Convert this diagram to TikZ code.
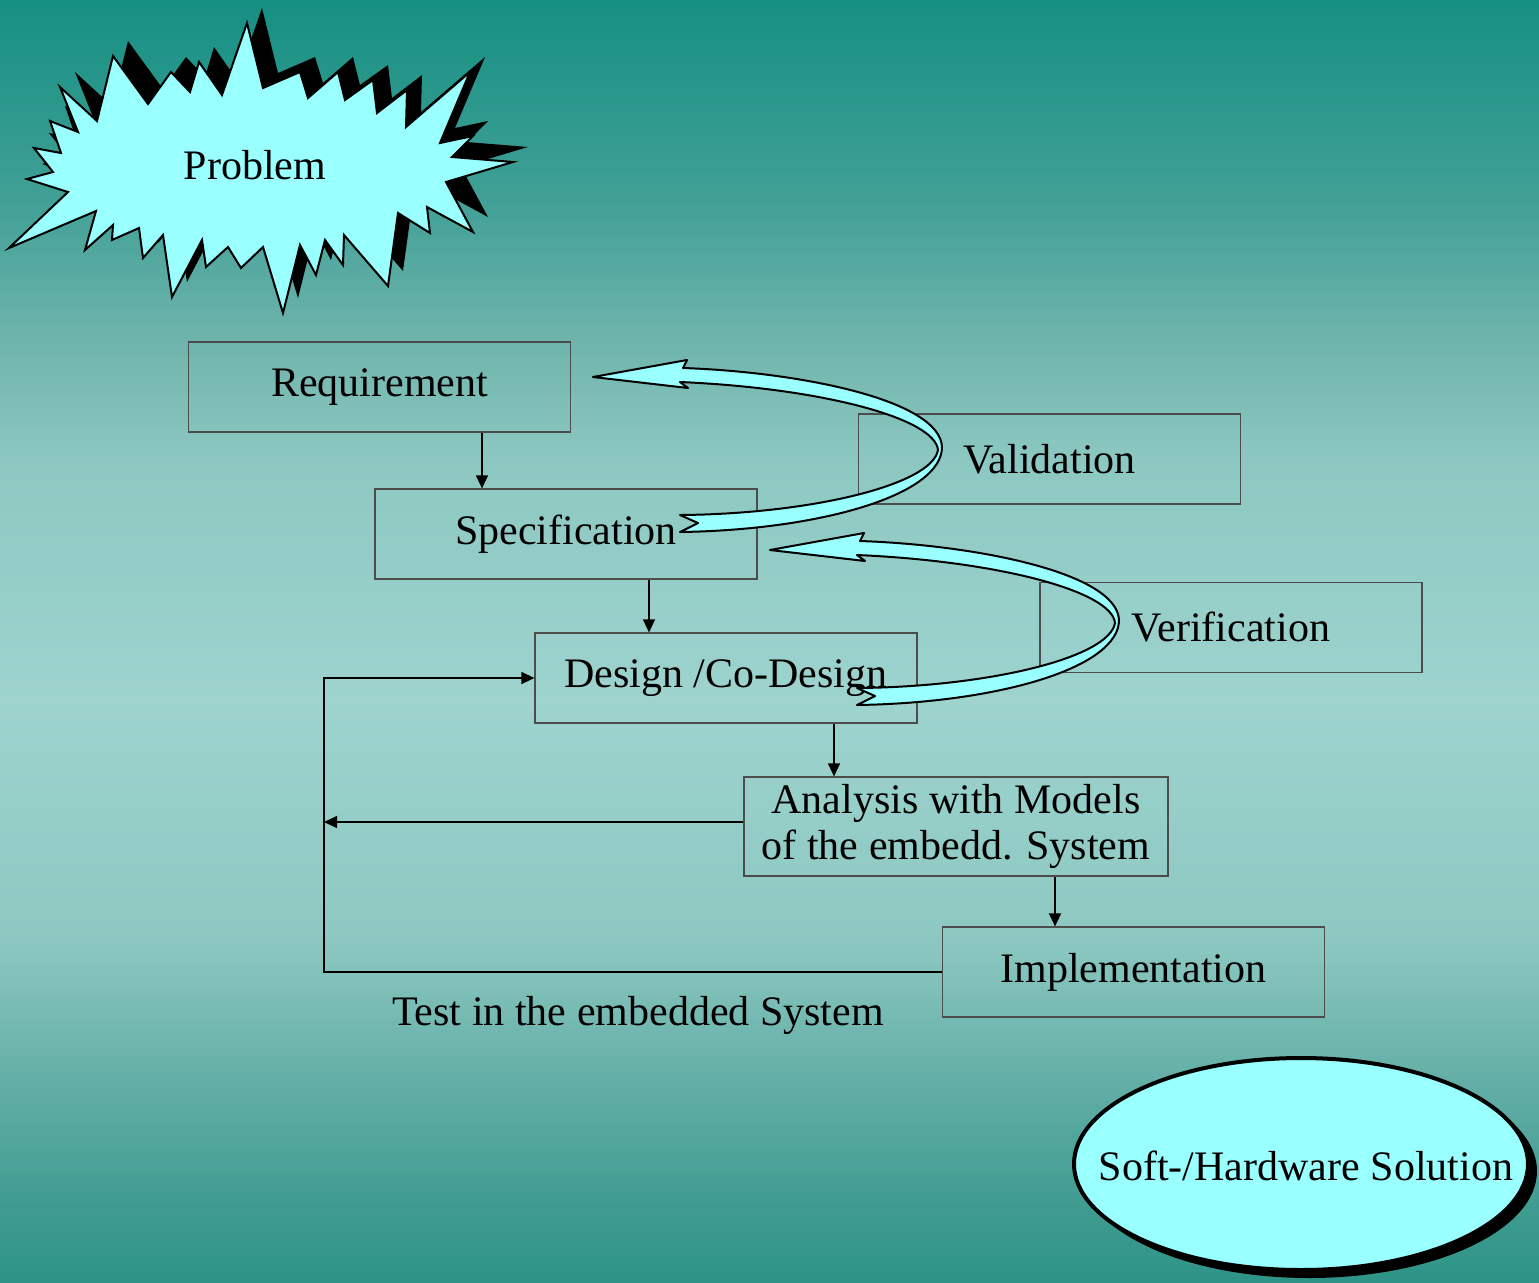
\documentclass[tikz,border=0pt]{standalone}
\usepackage{fontspec}
\setmainfont{Liberation Serif}
\usetikzlibrary{arrows.meta}

\definecolor{bgtop}{RGB}{21,143,130}
\definecolor{bgb}{RGB}{65,160,150}
\definecolor{bgc}{RGB}{110,180,172}
\definecolor{bgd}{RGB}{140,200,193}
\definecolor{bgmid}{RGB}{158,211,206}
\definecolor{bge}{RGB}{140,200,193}
\definecolor{bgf}{RGB}{105,178,170}
\definecolor{bgg}{RGB}{65,156,145}
\definecolor{bgbot}{RGB}{45,148,135}
\definecolor{aqua}{RGB}{153,255,255}

\pgfdeclareverticalshading{bgshade}{100bp}{color(0bp)=(bgbot); color(25bp)=(bgbot);
  color(28.2bp)=(bgg); color(33.65bp)=(bgf); color(38.35bp)=(bge); color(47.7bp)=(bgmid);
  color(57.05bp)=(bgd); color(61.75bp)=(bgc); color(67.2bp)=(bgb); color(75bp)=(bgtop);
  color(100bp)=(bgtop)}

\begin{document}
\begin{tikzpicture}[
  x=0.5pt, y=-0.5pt,
  font=\fontsize{21}{23}\selectfont,
  box/.style   ={rectangle, draw=black!70, line width=0.6pt, minimum width=191pt,
                 minimum height=45pt, inner sep=0pt},
  arr/.style   ={-{Triangle[length=6.5pt, width=6pt]}, line width=0.6pt},
  ribbon/.style={fill=aqua, draw=black, line width=1pt, line join=round},
  burst/.pic   ={\path[pic actions] (9,248) -- (68,192) -- (27,179) -- (53,172) -- (34,148)
                 -- (61,153) -- (50,121) -- (78,132) -- (60,87) -- (97,121) -- (113,56)
                 -- (148,104) -- (171,72) -- (190,92) -- (199,62) -- (222,95) -- (247,23)
                 -- (263,88) -- (300,72) -- (308,98) -- (338,72) -- (345,100) -- (373,80)
                 -- (377,113) -- (407,90) -- (406,127) -- (470,72) -- (440,143) -- (473,136)
                 -- (452,157) -- (513,162) -- (446,182) -- (473,232) -- (427,207) -- (430,233)
                 -- (398,213) -- (388,286) -- (344,235) -- (343,265) -- (325,240) -- (316,275)
                 -- (300,245) -- (283,313) -- (263,247) -- (241,268) -- (228,247) -- (206,267)
                 -- (202,240) -- (172,297) -- (163,235) -- (143,258) -- (139,228) -- (112,240)
                 -- (113,225) -- (85,250) -- (96,211) -- cycle;},
  twist/.pic   ={\draw[ribbon] (0,0) -- (94,-17) -- (90,-9)
                 .. controls (207,-5) and (347,23) .. (349,70)
                 .. controls (349,118) and (227,153) .. (87,155)
                 -- (105,146) -- (87,138)
                 .. controls (217,137) and (339,108) .. (345,73)
                 .. controls (342,41) and (227,11) .. (87,5)
                 -- (95,11) -- cycle;},
]
\useasboundingbox (0,0) rectangle (1539,1282);

% ---------------- background ----------------
\shade[shading=bgshade] (0,0) rectangle (1539,1282);

% ---------------- problem ----------------
\pic[fill=black] at (15,-15) {burst};
\pic[fill=aqua, draw=black, line width=1pt, line join=miter] at (0,0) {burst};
\node (prob) at (255,165) {Problem};

% ---------------- process boxes ----------------
\node[box] (req)  at (379.5,387)  {Requirement};
\node[box] (spec) at (566,534)    {Specification};
\node[box] (des)  at (726,678)    {Design /Co-Design};
\node[box, minimum width=212pt, minimum height=49.5pt, align=center]
           (ana)  at (956,826.5)  {Analysis with Models\\of the embedd. System};
\node[box] (impl) at (1133.5,972) {Implementation};

\node[box] (val)  at (1049.5,459) {Validation};
\node[box] (ver)  at (1231,627.5) {Verification};

\draw[arr] ([xshift=51.25pt]req.south) -- ([xshift=51.25pt]req.south |- spec.north);
\draw[arr] ([xshift=41.5pt]spec.south) -- ([xshift=41.5pt]spec.south |- des.north);
\draw[arr] ([xshift=54pt]des.south) -- ([xshift=54pt]des.south |- ana.north);
\draw[arr] ([xshift=49.5pt]ana.south) -- ([xshift=49.5pt]ana.south |- impl.north);

% ---------------- test loop ----------------
\coordinate (lp) at (324,972);
\draw[arr] (impl.west) -- (lp) |- (des.west);
\draw[arr] ([yshift=2.25pt]ana.west) -- ([yshift=2.25pt]ana.west -| lp);
\node (test) at (638,1015) {Test in the embedded System};

% ---------------- feedback ribbons ----------------
\pic at (593,377) {twist};
\pic at (770,550) {twist};

% ---------------- solution ----------------
\fill[black] (1309,1171) ellipse [x radius=228, y radius=107];
\draw[fill=aqua, line width=2pt] (1301,1164) ellipse [x radius=227, y radius=106];
\node (sol) at (1306,1166) {Soft-/Hardware Solution};

\end{tikzpicture}
\end{document}
